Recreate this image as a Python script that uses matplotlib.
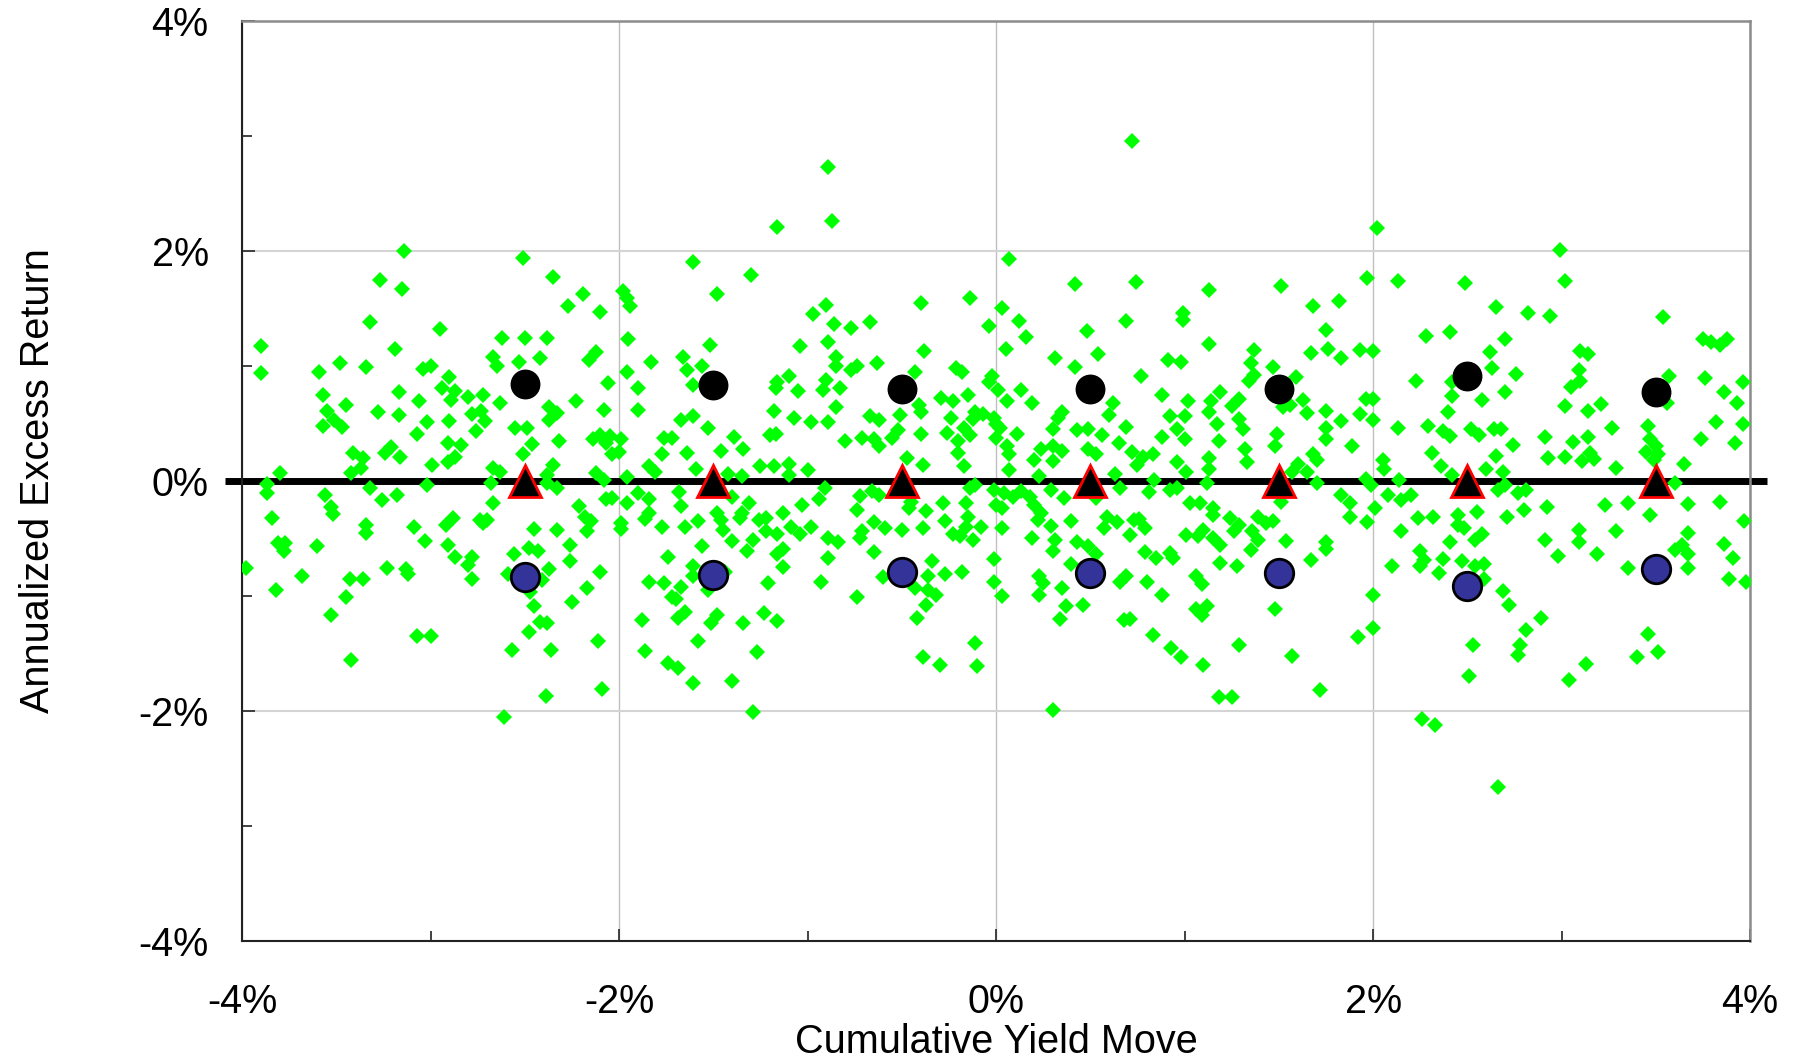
import matplotlib
matplotlib.use("Agg")
import matplotlib.pyplot as plt
from matplotlib.ticker import MultipleLocator, FuncFormatter

# cumulative yield move (%) and annualized excess return (%) for each period
yield_move = [
    -3.14, -2.51, -3.27, -3.15, -2.35, -2.19, -2.27, -2.10, -1.98, -1.96, -1.94, -1.61, -1.48,
    -3.32, -2.95, -3.90, -3.19, -2.62, -2.50, -2.38, -1.95, -1.52,
    -3.90, -3.59, -3.48, -3.34, -3.04, -3.00, -2.90, -2.67, -2.65, -2.53, -2.42, -2.12, -2.16, -1.83, -1.66, -1.64, -1.56, -1.96, -2.06, -1.90, -1.61,
    -3.57, -3.17, -2.94, -2.87, -2.89, -3.06, -2.80, -2.72, -2.63, -3.45, -3.55, -3.28, -3.17, -2.78, -2.73, -2.71, -2.90, -3.02, -2.23, -2.37, -2.33, -2.37, -2.08, -1.90,
    -3.57, -3.51, -3.47, -3.07, -2.76, -2.55, -2.49, -1.67, -1.61, -1.53, -1.39, -1.34,
    -3.41, -3.36, -3.24, -3.21, -3.16, -2.91, -2.84, -2.87, -2.91, -2.46, -2.51, -2.32, -2.14, -2.10, -2.05, -2.07, -1.99, -2.04, -2.00, -1.76, -1.72, -1.77, -1.64, -1.46,
    -3.80, -3.42, -3.37, -2.99, -2.67, -2.63, -2.35, -2.38, -2.12, -1.84, -1.81, -1.59, -1.42, -1.35,
    -0.89, -1.16, -0.87, 0.72, -1.30, 0.07, 0.42, 0.74, 1.13, -0.97, -0.90, -0.40, -0.14, 0.03, -0.86, -0.77, -0.67, -0.04, 0.12, 0.69,
    0.48, 0.99, 0.99, 0.16, -1.04, -0.89, -0.38, 0.05, 0.31, 0.54, 1.13, -0.85, -0.85, -0.77, -0.74, -0.63, -0.43, -0.21, -0.18, 0.42,
    0.91, 0.98, 1.37, 1.35, -1.10, -1.16, -1.17, -1.05, -0.90, -0.92, -0.83, -0.02, -0.04, 0.01, 0.13, 0.77, 1.34, -0.29, -0.23, -0.15,
    0.06, 0.19, 0.88, 1.19, 1.14, 1.29, 1.25, 1.02,
    -1.18, -1.07, -0.98, -0.89, -0.85, -0.67, -0.62, -0.51, -0.41, -0.40, -0.24, -0.11, -0.07, -0.12, -0.01, 0.00, 0.35, 0.33, 0.62, 0.60, 0.92, 1.00, 1.13, 1.17, 1.29, 1.31,
    -1.20, -1.17, -0.80, -0.71, -0.65, -0.62, -0.55, -0.52, -0.40, -0.26, -0.20, -0.17, -0.14, 0.02, 0.00, 0.11, 0.30, 0.43, 0.49, 0.56, 0.69, 0.88, 0.96, 1.00, 1.18,
    -0.20, 0.06, 0.07, 0.24, 0.30, 0.35, 0.20, 0.30, 0.49, 0.53, 0.65, 0.72, 0.78, 0.83, 0.75, 1.32, 1.33,
    -1.25, -1.18, -1.10, -1.10, -1.00, -0.47, -0.39, -0.17, 0.96, 1.01, 1.13, 1.13, 0.07, 0.23, 0.63,
    2.02, 2.99, 1.51, 1.97, 2.13, 2.49, 3.02, 1.68, 1.82, 2.65, 2.82, 2.94, 3.54, 1.75, 2.28, 2.41, 2.70, 3.75, 3.79, 3.84, 3.88,
    1.67, 1.76, 1.83, 1.93, 2.00, 2.62, 3.10, 3.14, 1.47, 1.59, 1.37, 2.23, 2.42, 2.63, 2.76, 3.09, 3.10, 3.05, 3.57, 3.76, 3.96,
    1.63, 1.52, 1.56, 1.65, 1.75, 1.96, 2.00, 1.93, 2.42, 2.40, 2.58, 2.70, 3.02, 3.14, 3.21, 3.56, 3.86, 3.93,
    1.75, 1.83, 2.00, 2.13, 2.29, 2.37, 2.41, 2.52, 2.56, 2.64, 2.68, 3.27, 3.46, 3.82, 3.96,
    1.49, 1.48, 1.75, 1.89, 2.31, 2.65, 2.74, 2.91, 3.06, 3.14, 3.47, 3.50, 3.45, 3.51, 3.74, 3.92,
    1.68, 1.70, 1.60, 1.57, 1.65, 2.93, 3.02, 3.11, 3.15, 3.17, 3.29, 3.65, 2.05, 2.06, 2.36, 2.42, 2.60, 2.69, 3.49, 1.96, 2.14, 3.60,
    -3.87, -3.87, -3.56, -3.32, -3.26, -3.18, -3.02, -2.68, -2.67, -2.33, -2.38, -2.08, -1.96, -1.90, -1.84, -1.96, -2.07, -2.04, -1.68, -1.67, -1.40, -1.31, -1.35, -1.36,
    -3.84, -3.53, -3.52, -3.34, -3.34, -3.09, -2.92, -2.88, -2.74, -2.70, -2.72, -2.21, -2.18, -2.15, -2.17, -1.99, -1.99, -1.86, -1.84, -1.77, -1.65, -1.58, -1.48, -1.46, -1.45,
    -3.81, -3.77, -3.78, -3.60, -3.03, -2.91, -2.87, -2.78, -2.80, -2.45, -2.33, -2.26, -2.56, -2.48, -2.43, -2.26, -2.10, -2.17, -2.25, -2.37, -2.41, -2.59, -2.47, -2.45,
    -1.74, -1.61, -1.56, -1.40, -1.32, -1.61, -1.84, -1.76, -1.67, -1.72, -1.70, -1.53, -1.44,
    -3.98, -3.82, -3.68, -3.43, -3.36, -3.23, -3.13, -3.12, -2.78, -3.45, -3.53,
    -1.88, -1.65, -1.69, -1.48, -1.51, -1.34, -2.42, -2.38, -2.48, -3.07, -3.00, -2.57, -2.36, -2.11, -1.86, -1.58, -1.74, -1.69, -1.61, -1.40, -3.42, -2.39, -2.09, -2.61,
    -0.91, -0.94, -1.03, -1.13, -1.26, -1.22, -1.22, -1.16, -1.09, -1.04, -0.98, -1.29, -1.13, -1.16, -1.13, -0.89, -0.84, -0.89, -0.93, -1.21,
    -0.74, -0.72, -0.66, -0.62, -0.65, -0.59, -0.71, -0.72, -0.65, -0.50, -0.46, -0.45, -0.37, -0.39, -0.28, -0.27, -0.23, -0.16, -0.14, -0.15, -0.16, -0.12, -0.08, -0.19,
    -0.34, -0.36, -0.27, -0.18, -0.60, -0.43, -0.36, -0.32, -0.37, -0.42, -0.74, -1.23, -1.16, -1.27, -0.39, -0.30, -0.11, -0.10, -1.29,
    -0.01, 0.04, 0.00, 0.03, 0.09, 0.13, 0.18, 0.20, 0.24, 0.22, 0.03, -0.01, -0.01, 0.03, 0.19, 0.29, 0.31, 0.30, 0.40, 0.36, 0.29, 0.43, 0.49, 0.53, 0.40, 0.23, 0.25, 0.23, 0.35, 0.37, 0.46, 0.34,
    0.59, 0.57, 0.64, 0.73, 0.76, 0.79, 0.71, 0.79, 0.85, 0.94, 0.92, 0.69, 0.66, 0.80, 0.88, 0.68, 0.71, 0.83, 0.93, 0.98, 1.10, 1.29, 1.18, 1.25, 0.30,
    0.66, 0.81, 0.92, 0.96, 1.03, 1.08, 1.15, 1.15, 1.24, 1.12, 1.01, 1.07, 1.10, 1.15, 1.19, 1.26, 1.29, 1.36, 1.35, 1.19, 1.28, 1.06, 1.09, 1.06, 1.12, 1.09, 0.53, 0.84, -0.11,
    1.70, 1.51, 1.83, 1.88, 1.88, 1.97, 2.01, 2.08, 2.15, 2.20, 2.15, 2.24, 2.32, 2.45, 2.45, 2.48, 2.55, 2.71, 2.80, 2.92, 2.77, 2.81, 2.66, 2.70, 3.23, 3.35, 3.47, 3.67, 3.84, 3.97,
    1.39, 1.47, 1.43, 1.39, 1.54, 1.75, 1.75, 1.67, 2.41, 2.54, 2.58, 2.25, 2.27, 2.25, 2.37, 2.35, 2.47, 2.54, 2.59, 2.59, 2.10,
    2.91, 2.98, 3.09, 3.09, 3.19, 3.29, 3.35, 3.60, 3.64, 3.67, 3.67, 3.67, 3.86, 3.91, 3.89, 3.98,
    2.00, 2.00, 1.92, 1.48, 1.57, 1.72, 2.69, 2.72, 2.89, 2.81, 2.78, 2.77, 2.53, 2.51, 3.13, 3.04, 3.46, 3.40, 3.51, 2.26, 2.33, 2.66, 1.99,
]
excess_return = [
    2.00, 1.94, 1.75, 1.67, 1.77, 1.62, 1.52, 1.47, 1.65, 1.59, 1.52, 1.90, 1.62,
    1.38, 1.32, 1.17, 1.15, 1.24, 1.24, 1.24, 1.23, 1.18,
    0.94, 0.95, 1.02, 0.99, 0.97, 1.00, 0.90, 1.08, 1.00, 1.03, 1.07, 1.12, 1.05, 1.03, 1.08, 0.96, 1.00, 0.95, 0.85, 0.81, 0.83,
    0.75, 0.77, 0.81, 0.78, 0.70, 0.69, 0.73, 0.75, 0.68, 0.66, 0.61, 0.60, 0.57, 0.58, 0.61, 0.52, 0.52, 0.51, 0.69, 0.64, 0.59, 0.53, 0.62, 0.62,
    0.48, 0.53, 0.47, 0.41, 0.43, 0.46, 0.46, 0.53, 0.56, 0.46, 0.38, 0.28,
    0.24, 0.20, 0.24, 0.29, 0.21, 0.33, 0.31, 0.21, 0.16, 0.32, 0.23, 0.35, 0.36, 0.40, 0.39, 0.33, 0.36, 0.23, 0.25, 0.37, 0.37, 0.23, 0.24, 0.26,
    0.07, 0.07, 0.11, 0.14, 0.11, 0.08, 0.14, 0.05, 0.07, 0.13, 0.08, 0.10, 0.06, 0.04,
    2.73, 2.21, 2.26, 2.95, 1.79, 1.93, 1.71, 1.73, 1.66, 1.45, 1.53, 1.55, 1.59, 1.50, 1.36, 1.33, 1.38, 1.35, 1.39, 1.39,
    1.30, 1.46, 1.40, 1.25, 1.17, 1.21, 1.13, 1.15, 1.07, 1.10, 1.19, 1.08, 1.00, 0.96, 1.00, 1.02, 0.95, 0.98, 0.95, 0.99,
    1.05, 1.03, 1.14, 1.02, 0.91, 0.86, 0.81, 0.78, 0.88, 0.79, 0.81, 0.91, 0.86, 0.79, 0.79, 0.91, 0.87, 0.72, 0.69, 0.75,
    0.69, 0.68, 0.75, 0.77, 0.69, 0.71, 0.65, 0.69,
    0.61, 0.55, 0.51, 0.51, 0.64, 0.56, 0.53, 0.57, 0.66, 0.60, 0.55, 0.60, 0.58, 0.54, 0.55, 0.49, 0.60, 0.55, 0.68, 0.57, 0.56, 0.56, 0.60, 0.49, 0.54, 0.45,
    0.40, 0.41, 0.35, 0.37, 0.36, 0.30, 0.37, 0.44, 0.41, 0.42, 0.35, 0.46, 0.40, 0.46, 0.37, 0.41, 0.45, 0.44, 0.45, 0.40, 0.47, 0.38, 0.45, 0.36, 0.35,
    0.24, 0.30, 0.23, 0.28, 0.30, 0.26, 0.18, 0.17, 0.28, 0.23, 0.33, 0.25, 0.21, 0.23, 0.14, 0.28, 0.16,
    0.13, 0.13, 0.15, 0.05, 0.09, 0.20, 0.14, 0.13, 0.16, 0.08, 0.20, 0.10, 0.09, 0.04, 0.06,
    2.20, 2.01, 1.69, 1.76, 1.74, 1.72, 1.74, 1.52, 1.56, 1.51, 1.46, 1.43, 1.42, 1.31, 1.26, 1.29, 1.23, 1.23, 1.21, 1.18, 1.23,
    1.11, 1.15, 1.07, 1.14, 1.13, 1.12, 1.13, 1.10, 0.99, 0.90, 0.92, 0.87, 0.86, 0.98, 0.93, 0.96, 0.87, 0.82, 0.91, 0.89, 0.86,
    0.70, 0.64, 0.66, 0.59, 0.61, 0.71, 0.71, 0.58, 0.74, 0.60, 0.70, 0.77, 0.65, 0.61, 0.67, 0.68, 0.77, 0.68,
    0.46, 0.52, 0.53, 0.46, 0.48, 0.43, 0.39, 0.45, 0.40, 0.45, 0.45, 0.46, 0.48, 0.51, 0.49,
    0.41, 0.30, 0.36, 0.30, 0.24, 0.22, 0.31, 0.38, 0.34, 0.38, 0.36, 0.30, 0.25, 0.23, 0.36, 0.33,
    0.23, 0.18, 0.15, 0.08, 0.08, 0.20, 0.21, 0.17, 0.24, 0.19, 0.11, 0.15, 0.18, 0.10, 0.13, 0.05, 0.10, 0.08, 0.18, 0.02, 0.01, -0.02,
    -0.03, -0.11, -0.12, -0.06, -0.17, -0.12, -0.04, -0.02, -0.19, -0.06, -0.02, 0.01, 0.03, -0.11, -0.16, -0.19, -0.16, -0.15, -0.10, -0.22, -0.14, -0.19, -0.28, -0.32,
    -0.32, -0.23, -0.29, -0.38, -0.45, -0.40, -0.38, -0.32, -0.34, -0.34, -0.37, -0.22, -0.31, -0.35, -0.44, -0.37, -0.42, -0.33, -0.28, -0.40, -0.40, -0.35, -0.28, -0.34, -0.43,
    -0.54, -0.54, -0.61, -0.57, -0.52, -0.56, -0.66, -0.66, -0.73, -0.42, -0.43, -0.56, -0.64, -0.58, -0.61, -0.70, -0.79, -0.93, -1.05, -0.77, -0.86, -0.81, -0.97, -1.09,
    -0.66, -0.74, -0.57, -0.52, -0.61, -0.83, -0.88, -0.89, -0.92, -1.01, -1.03, -0.95, -0.79,
    -0.76, -0.95, -0.83, -0.85, -0.85, -0.76, -0.77, -0.81, -0.85, -1.01, -1.17,
    -1.21, -1.14, -1.19, -1.17, -1.24, -1.24, -1.23, -1.24, -1.31, -1.35, -1.35, -1.47, -1.47, -1.39, -1.48, -1.39, -1.58, -1.63, -1.76, -1.74, -1.56, -1.87, -1.81, -2.05,
    -0.06, -0.16, -0.21, -0.28, -0.34, -0.32, -0.44, -0.46, -0.40, -0.46, -0.40, -0.51, -0.59, -0.64, -0.75, -0.50, -0.53, -0.67, -0.88, -0.89,
    -0.25, -0.13, -0.09, -0.12, -0.36, -0.41, -0.44, -0.50, -0.62, -0.43, -0.24, -0.18, -0.26, -0.41, -0.19, -0.35, -0.46, -0.19, -0.06, -0.31, -0.40, -0.51, -0.40, -0.48,
    -0.70, -0.83, -0.81, -0.79, -0.84, -0.93, -0.95, -0.99, -1.08, -1.19, -1.01, -1.15, -1.22, -1.49, -1.53, -1.60, -1.41, -1.61, -2.01,
    -0.08, -0.11, -0.21, -0.24, -0.14, -0.09, -0.14, -0.21, -0.28, -0.34, -0.41, -0.68, -0.88, -1.00, -0.50, -0.39, -0.51, -0.61, -0.35, -0.15, -0.08, -0.53, -0.57, -0.64, -0.72, -0.83, -0.89, -0.99, -0.93, -1.09, -1.08, -1.20,
    -0.31, -0.41, -0.36, -0.34, -0.33, -0.41, -0.47, -0.62, -0.67, -0.67, -0.63, -0.83, -0.88, -0.88, -0.99, -1.21, -1.20, -1.34, -1.45, -1.53, -1.60, -1.43, -1.88, -1.88, -1.99,
    -0.06, -0.10, -0.08, -0.06, -0.19, -0.19, -0.24, -0.30, -0.32, -0.02, -0.47, -0.48, -0.43, -0.50, -0.56, -0.44, -0.38, -0.44, -0.60, -0.71, -0.74, -0.83, -0.90, -1.11, -1.09, -1.17, -0.15, 0.01, -0.04,
    -0.02, -0.18, -0.12, -0.19, -0.31, -0.36, -0.24, -0.12, -0.17, -0.12, -0.44, -0.32, -0.31, -0.30, -0.38, -0.41, -0.27, -0.31, -0.25, -0.23, -0.11, -0.08, -0.08, -0.04, -0.21, -0.19, -0.30, -0.20, -0.18, -0.35,
    -0.31, -0.35, -0.37, -0.51, -0.52, -0.53, -0.59, -0.69, -0.53, -0.51, -0.46, -0.61, -0.69, -0.74, -0.68, -0.80, -0.70, -0.74, -0.72, -0.85, -0.74,
    -0.51, -0.65, -0.43, -0.53, -0.64, -0.44, -0.76, -0.60, -0.56, -0.45, -0.64, -0.76, -0.55, -0.67, -0.85, -0.88,
    -0.99, -1.28, -1.36, -1.11, -1.52, -1.82, -0.96, -1.08, -1.19, -1.30, -1.43, -1.51, -1.43, -1.70, -1.59, -1.73, -1.33, -1.53, -1.49, -2.07, -2.12, -2.66, -0.04,
]

# bucket statistics: mid-point of each 1% yield bucket, mean and +/- one std dev
bucket_mid = [-2.5, -1.5, -0.5, 0.5, 1.5, 2.5, 3.5]
bucket_mean = [0.0, 0.0, 0.0, 0.0, 0.0, 0.0, 0.0]
bucket_upper = [0.84, 0.83, 0.80, 0.80, 0.80, 0.91, 0.77]
bucket_lower = [-0.84, -0.82, -0.79, -0.80, -0.80, -0.91, -0.77]

# zero reference line, runs a little past both edges of the plot
zero_line_x = [-4.09, 4.09]
zero_line_y = [0.0, 0.0]

plt.rcParams['font.family'] = ['Liberation Sans', 'DejaVu Sans']

fig = plt.figure(figsize=(17.97, 10.59), dpi=100)
ax = fig.add_axes([0.1347, 0.1114, 0.8392, 0.8691])

ax.plot(zero_line_x, zero_line_y, color='black', lw=5, solid_capstyle='butt',
        clip_on=False, zorder=2)
ax.plot(yield_move, excess_return, ls='none', marker='D', ms=8.5,
        color='#00ff00', mew=0, zorder=3)
ax.plot(bucket_mid, bucket_upper, ls='none', marker='o', ms=20.5,
        mfc='black', mec='black', mew=1, zorder=4)
ax.plot(bucket_mid, bucket_lower, ls='none', marker='o', ms=20.5,
        mfc='#333399', mec='black', mew=2, zorder=4)
ax.plot(bucket_mid, bucket_mean, ls='none', marker='^', ms=23,
        mfc='black', mec='red', mew=2, zorder=5)

ax.set_xlim(-4, 4)
ax.set_ylim(-4, 4)

pct = FuncFormatter(lambda v, pos: '%d%%' % int(round(v)))
for axis in (ax.xaxis, ax.yaxis):
    axis.set_major_locator(MultipleLocator(2))
    axis.set_minor_locator(MultipleLocator(1))
    axis.set_major_formatter(pct)

ax.xaxis.grid(True, which='major', color='#c0c0c0', lw=1.0)
ax.yaxis.grid(True, which='major', color='#d4d4d4', lw=1.5)
ax.set_axisbelow(True)

ax.tick_params(which='both', direction='in', color='#333333', width=1.3,
               top=False, right=False)
ax.tick_params(which='major', length=9)
ax.tick_params(which='minor', length=7)
ax.tick_params(axis='x', labelsize=28.5, pad=30)
ax.tick_params(axis='y', labelsize=28.5, pad=24)

for side in ('left', 'bottom'):
    ax.spines[side].set_color('#222222')
    ax.spines[side].set_linewidth(1.5)
for side in ('top', 'right'):
    ax.spines[side].set_color('#8c8c8c')
    ax.spines[side].set_linewidth(1.8)

ax.set_xlabel('Cumulative Yield Move', fontsize=28.5)
ax.set_ylabel('Annualized Excess Return', fontsize=28.5)
ax.xaxis.set_label_coords(0.5, -0.0895)
ax.yaxis.set_label_coords(-0.123, 0.5)

fig.savefig('out.png', dpi=100)
